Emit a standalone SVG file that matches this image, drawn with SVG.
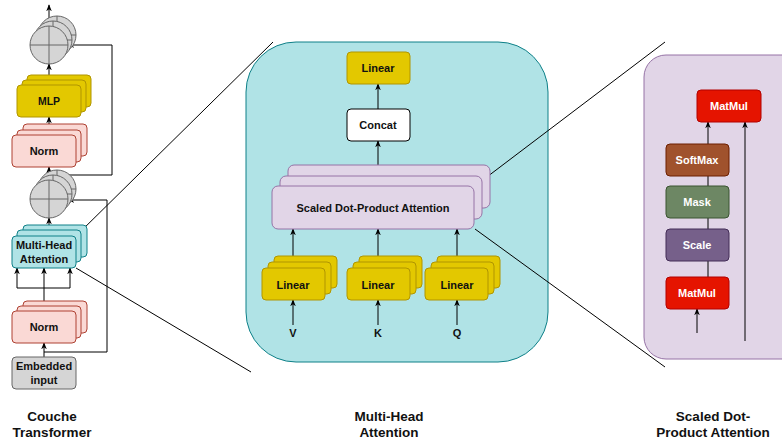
<svg xmlns="http://www.w3.org/2000/svg" width="782" height="441" viewBox="0 0 782 441">
<defs>
<marker id="ah" viewBox="0 0 10 10" refX="9" refY="5" markerWidth="7" markerHeight="7" orient="auto-start-reverse" markerUnits="userSpaceOnUse"><path d="M0,1 L10,5 L0,9 L3,5 Z" fill="#000"/></marker>
<style>
text{font-family:"Liberation Sans",Arial,sans-serif;font-weight:bold;fill:#111;text-anchor:middle;dominant-baseline:central}
.yl{fill:#e3c800;stroke:#b09500;stroke-width:1}
.pk{fill:#fad9d5;stroke:#ae4132;stroke-width:1}
.tl{fill:#b0e3e6;stroke:#0e8088;stroke-width:1}
.gr{fill:#d5d5d5;stroke:#666;stroke-width:1}
.pu{fill:#e1d5e7;stroke:#9673a6;stroke-width:1}
.wh{fill:#fff;stroke:#000;stroke-width:1}
.rd{fill:#e51400;stroke:#b20000;stroke-width:1}
.br{fill:#a0522d;stroke:#6d1f00;stroke-width:1}
.gn{fill:#6d8764;stroke:#3a5431;stroke-width:1}
.vi{fill:#76608a;stroke:#432d57;stroke-width:1}
.ln{fill:none;stroke:#000;stroke-width:1}
.ar{fill:none;stroke:#000;stroke-width:1;marker-end:url(#ah)}
.cr{stroke:#666;stroke-width:1}
.w{fill:#fff}
.t12{font-size:11px}
.t10{font-size:10.5px}
.t14{font-size:13.5px}
</style>
</defs>
<!-- panels -->
<g id="panel-mha"><rect x="246" y="42" width="302" height="320" rx="50" fill="#b0e3e6" stroke="#0e8088" stroke-width="1"/></g>
<g id="panel-sdpa"><rect x="644" y="55" width="160" height="304" rx="22" fill="#e1d5e7" stroke="#9673a6" stroke-width="1"/></g>

<g id="connectors">
<!-- left column -->
<line class="ar" x1="49" y1="45" x2="49" y2="5"/>
<line class="ar" x1="49" y1="85" x2="49" y2="64"/>
<line class="ar" x1="49" y1="135" x2="49" y2="117"/>
<line class="ar" x1="49" y1="180" x2="49" y2="167"/>
<polyline class="ar" points="49,175 112,175 112,45 68,45"/>
<line class="ar" x1="49" y1="236" x2="49" y2="218"/>
<polyline class="ar" points="44,352 107,352 107,200 68,200"/>
<line class="ar" x1="44" y1="311" x2="44" y2="268"/>
<line class="ln" x1="17" y1="288" x2="70" y2="288"/>
<line class="ar" x1="17" y1="288" x2="17" y2="268"/>
<line class="ar" x1="70" y1="288" x2="70" y2="268"/>
<line class="ar" x1="44" y1="357" x2="44" y2="343"/>
<!-- zoom lines -->
<line class="ln" x1="76" y1="236" x2="273" y2="42"/>
<line class="ln" x1="76" y1="268" x2="251" y2="372"/>
<line class="ln" x1="475" y1="186" x2="665" y2="42"/>
<line class="ln" x1="475" y1="229" x2="665" y2="367"/>
<!-- middle -->
<line class="ar" x1="378" y1="109" x2="378" y2="84"/>
<line class="ar" x1="378" y1="165" x2="378" y2="141"/>
<line class="ar" x1="293" y1="268" x2="293" y2="229"/>
<line class="ar" x1="378" y1="268" x2="378" y2="229"/>
<line class="ar" x1="457" y1="268" x2="457" y2="229"/>
<line class="ar" x1="293" y1="325" x2="293" y2="300"/>
<line class="ar" x1="378" y1="325" x2="378" y2="300"/>
<line class="ar" x1="457" y1="325" x2="457" y2="300"/>
<!-- right -->
<line class="ar" x1="708" y1="277" x2="708" y2="122"/>
<line class="ar" x1="697" y1="333" x2="697" y2="309"/>
<line class="ar" x1="745" y1="341" x2="745" y2="122"/>
</g>

<!-- left nodes -->
<g id="add-top">
<circle class="gr" cx="57" cy="35" r="19"/><line class="cr" x1="57" y1="16" x2="57" y2="54"/><line class="cr" x1="38" y1="35" x2="76" y2="35"/>
<circle class="gr" cx="53" cy="40" r="19"/><line class="cr" x1="53" y1="21" x2="53" y2="59"/><line class="cr" x1="34" y1="40" x2="72" y2="40"/>
<circle class="gr" cx="49" cy="45" r="19"/><line class="cr" x1="49" y1="26" x2="49" y2="64"/><line class="cr" x1="30" y1="45" x2="68" y2="45"/>
</g>
<g id="mlp">
<rect class="yl" x="27" y="75" width="64" height="32" rx="4"/>
<rect class="yl" x="22" y="80" width="64" height="32" rx="4"/>
<rect class="yl" x="17" y="85" width="64" height="32" rx="4"/>
<text class="t10" x="49" y="101">MLP</text>
</g>
<g id="norm-top">
<rect class="pk" x="23" y="124" width="64" height="32" rx="4"/>
<rect class="pk" x="17" y="130" width="64" height="32" rx="4"/>
<rect class="pk" x="12" y="135" width="64" height="32" rx="4"/>
<text class="t12" x="44" y="151">Norm</text>
</g>
<g id="add-bottom">
<circle class="gr" cx="57" cy="189" r="19"/><line class="cr" x1="57" y1="170" x2="57" y2="208"/><line class="cr" x1="38" y1="189" x2="76" y2="189"/>
<circle class="gr" cx="53" cy="194" r="19"/><line class="cr" x1="53" y1="175" x2="53" y2="213"/><line class="cr" x1="34" y1="194" x2="72" y2="194"/>
<circle class="gr" cx="49" cy="199" r="19"/><line class="cr" x1="49" y1="180" x2="49" y2="218"/><line class="cr" x1="30" y1="199" x2="68" y2="199"/>
</g>
<g id="mha-left">
<rect class="tl" x="23" y="225" width="64" height="32" rx="4"/>
<rect class="tl" x="17" y="230" width="64" height="32" rx="4"/>
<rect class="tl" x="12" y="236" width="64" height="32" rx="4"/>
<text class="t12" x="44" y="245">Multi-Head</text>
<text class="t12" x="44" y="259">Attention</text>
</g>
<g id="norm-bottom">
<rect class="pk" x="23" y="301" width="64" height="32" rx="4"/>
<rect class="pk" x="17" y="306" width="64" height="32" rx="4"/>
<rect class="pk" x="12" y="311" width="64" height="32" rx="4"/>
<text class="t12" x="44" y="327">Norm</text>
</g>
<g id="embedded">
<rect class="gr" x="12" y="357" width="64" height="32" rx="4"/>
<text class="t12" x="44" y="366">Embedded</text>
<text class="t12" x="44" y="380">input</text>
</g>

<!-- middle nodes -->
<g id="linear-out">
<rect class="yl" x="347" y="52" width="63" height="32" rx="4"/>
<text class="t12" x="378" y="68">Linear</text>
</g>
<g id="concat">
<rect class="wh" x="347" y="109" width="63" height="32" rx="4"/>
<text class="t12" x="378" y="125">Concat</text>
</g>
<g id="sdpa-stack">
<rect class="pu" x="288" y="165" width="202" height="43" rx="6"/>
<rect class="pu" x="280" y="176" width="202" height="43" rx="6"/>
<rect class="pu" x="272" y="186" width="202" height="43" rx="6"/>
<text class="t12" x="373" y="208">Scaled Dot-Product Attention</text>
</g>
<g id="linear-v">
<rect class="yl" x="274" y="256" width="63" height="32" rx="4"/>
<rect class="yl" x="268" y="262" width="63" height="32" rx="4"/>
<rect class="yl" x="262" y="268" width="63" height="32" rx="4"/>
<text class="t12" x="293" y="285">Linear</text>
</g>
<g id="linear-k">
<rect class="yl" x="359" y="256" width="63" height="32" rx="4"/>
<rect class="yl" x="353" y="262" width="63" height="32" rx="4"/>
<rect class="yl" x="347" y="268" width="63" height="32" rx="4"/>
<text class="t12" x="378" y="285">Linear</text>
</g>
<g id="linear-q">
<rect class="yl" x="437" y="256" width="63" height="32" rx="4"/>
<rect class="yl" x="431" y="262" width="63" height="32" rx="4"/>
<rect class="yl" x="425" y="268" width="63" height="32" rx="4"/>
<text class="t12" x="457" y="285">Linear</text>
</g>
<g id="labels-vkq">
<text class="t12" x="293" y="333">V</text>
<text class="t12" x="378" y="333">K</text>
<text class="t12" x="457" y="333">Q</text>
</g>

<!-- right nodes -->
<g id="matmul-top"><rect class="rd" x="697" y="90" width="64" height="32" rx="4"/><text class="t12 w" x="729" y="106">MatMul</text></g>
<g id="softmax"><rect class="br" x="666" y="144" width="63" height="32" rx="4"/><text class="t12 w" x="697" y="160">SoftMax</text></g>
<g id="mask"><rect class="gn" x="666" y="186" width="63" height="32" rx="4"/><text class="t12 w" x="697" y="202">Mask</text></g>
<g id="scale"><rect class="vi" x="666" y="229" width="63" height="32" rx="4"/><text class="t12 w" x="697" y="245">Scale</text></g>
<g id="matmul-bottom"><rect class="rd" x="666" y="277" width="63" height="32" rx="4"/><text class="t12 w" x="697" y="293">MatMul</text></g>

<!-- captions -->
<g id="captions">
<text class="t14" x="52" y="416">Couche</text>
<text class="t14" x="52" y="432">Transformer</text>
<text class="t14" x="389" y="416">Multi-Head</text>
<text class="t14" x="389" y="432">Attention</text>
<text class="t14" x="713" y="416">Scaled Dot-</text>
<text class="t14" x="713" y="432">Product Attention</text>
</g>
</svg>
